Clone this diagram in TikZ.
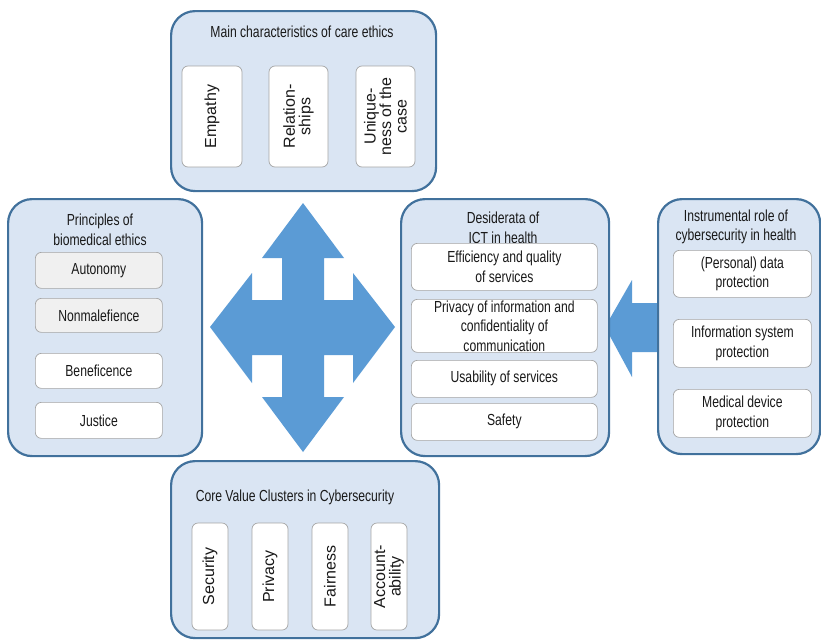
\documentclass[tikz,border=0pt]{standalone}
\usepackage{fontspec}
\setmainfont{Liberation Sans}
\newfontfamily\narrowfont{Liberation Sans}[FakeStretch=0.76]
\newcommand\hfnt{\narrowfont\fontsize{16}{19.5}\selectfont}
\newcommand\vfnt{\fontsize{16}{15.5}\selectfont}
\definecolor{boxfill}{RGB}{218,229,243}
\definecolor{boxline}{RGB}{65,113,156}
\definecolor{arrowblue}{RGB}{91,155,213}
\definecolor{inline}{RGB}{165,165,165}
\definecolor{grayfill}{RGB}{240,240,240}
\definecolor{txt}{RGB}{25,25,25}
\begin{document}
\begin{tikzpicture}[x=1pt,y=-1pt,
  outer/.style={draw=boxline, line width=2.2pt, fill=boxfill, rounded corners=24pt, inner sep=0pt, anchor=north west},
  inbox/.style={draw=inline, line width=0.7pt, fill=white, rounded corners=6pt, inner sep=0pt, text=txt, align=center},
  hbox/.style={inbox, font=\hfnt, anchor=north west},
  vbox/.style={inbox, font=\vfnt, rotate=90},
  ttl/.style={font=\hfnt, align=center, text=txt, inner sep=0pt}]
\useasboundingbox (0,0) rectangle (821,640);
% arrow from right box
\fill[arrowblue] (605,327) -- (632,280) -- (632,303) -- (660,303) -- (660,352) -- (632,352) -- (632,377) -- cycle;
% four-way arrow
\fill[arrowblue] (303,203) -- (344,258) -- (324,258) -- (324,300) -- (353,300) -- (353,273) -- (395,327) -- (353,383) -- (353,355) -- (324,355) -- (324,397) -- (344,397) -- (303,452) -- (262,397) -- (282,397) -- (282,355) -- (252,355) -- (252,383) -- (210,327) -- (252,273) -- (252,300) -- (282,300) -- (282,258) -- (262,258) -- cycle;
% top box
\node[outer, minimum width=265, minimum height=180] (top) at (170,10) {};
\node[ttl] (ttop) at (302,32) {Main characteristics of care ethics};
\node[vbox, minimum width=101, minimum height=60] (emp) at (212,116.5) {Empathy};
\node[vbox, minimum width=101, minimum height=59] (rel) at (298.5,116.5) {Relation-\\ships};
\node[vbox, minimum width=101, minimum height=59] (uni) at (385.5,116.5) {Unique-\\ness of the\\case};
% left box
\node[outer, minimum width=194, minimum height=257] (left) at (7,198) {};
\node[ttl] (tleft) at (100,230) {Principles of\\biomedical ethics};
\node[hbox, fill=grayfill, minimum width=127, minimum height=36] (auto) at (35,252) {Autonomy};
\node[hbox, fill=grayfill, minimum width=127, minimum height=34] (nonm) at (35,298) {Nonmalefience};
\node[hbox, minimum width=127, minimum height=35] (bene) at (35,353) {Beneficence};
\node[hbox, minimum width=127, minimum height=36] (just) at (35,402) {Justice};
% middle box
\node[outer, minimum width=208, minimum height=257] (mid) at (400,198) {};
\node[ttl] (tmid) at (503,228) {Desiderata of\\ICT in health};
\node[hbox, minimum width=186, minimum height=47] (eff) at (411,243) {Efficiency and quality\\of services};
\node[hbox, minimum width=186, minimum height=53] (priv) at (411,299) {};
\node[ttl] (privt) at (priv.center) {Privacy of information and\\confidentiality of\\communication};
\node[hbox, minimum width=186, minimum height=37] (usab) at (411,360) {Usability of services};
\node[hbox, minimum width=186, minimum height=37] (safe) at (411,403) {Safety};
% right box
\node[outer, minimum width=162, minimum height=255] (right) at (657,198) {};
\node[ttl] (tright) at (736,227) {Instrumental role of\\cybersecurity in health};
\node[hbox, minimum width=138, minimum height=47] (pers) at (673,250) {(Personal) data\\protection};
\node[hbox, minimum width=138, minimum height=48] (info) at (673,319) {Information system\\protection};
\node[hbox, minimum width=138, minimum height=48] (med) at (673,389) {Medical device\\protection};
% bottom box
\node[outer, minimum width=268, minimum height=177] (bot) at (170,460) {};
\node[ttl] (tbot) at (295,497) {Core Value Clusters in Cybersecurity};
\node[vbox, minimum width=107, minimum height=36] (sec) at (210,576.5) {Security};
\node[vbox, minimum width=107, minimum height=36] (pri) at (270,576.5) {Privacy};
\node[vbox, minimum width=107, minimum height=36] (fair) at (330,576.5) {Fairness};
\node[vbox, minimum width=107, minimum height=36] (acc) at (389,576.5) {Account-\\ability};
\end{tikzpicture}
\end{document}
